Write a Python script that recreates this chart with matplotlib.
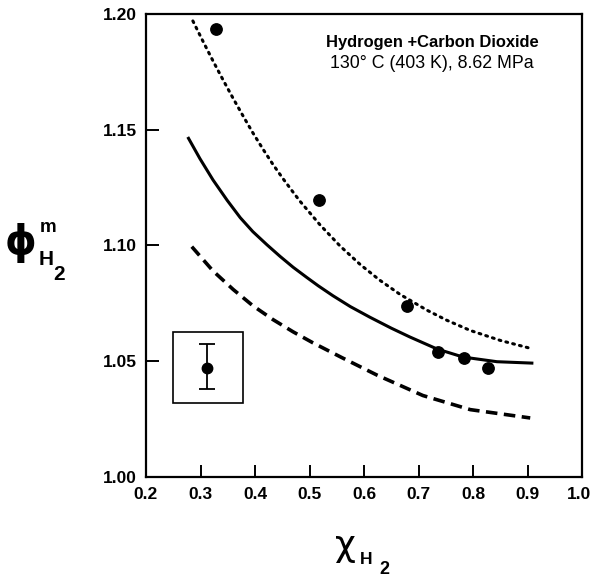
import numpy as np
import matplotlib.pyplot as plt
from matplotlib.transforms import ScaledTranslation

plt.rcParams['font.family'] = ['Liberation Sans', 'DejaVu Sans']

# 实验点
x_exp = [0.328, 0.517, 0.679, 0.736, 0.784, 0.828]
y_exp = [1.1935, 1.1197, 1.0739, 1.0540, 1.0514, 1.0471]

# 点线
x_dot = [0.286, 0.305, 0.323, 0.341, 0.360, 0.378, 0.396, 0.415, 0.433, 0.451,
         0.470, 0.483, 0.519, 0.556, 0.593, 0.629, 0.666, 0.716, 0.752, 0.795,
         0.850, 0.905]
y_dot = [1.1970, 1.1880, 1.1797, 1.1717, 1.1635, 1.1560, 1.1487, 1.1415, 1.1350, 1.1290,
         1.1230, 1.1190, 1.1090, 1.0998, 1.0918, 1.0850, 1.0789, 1.0720, 1.0677, 1.0633,
         1.0590, 1.0556]

# 实线
x_sol = [0.278, 0.299, 0.323, 0.349, 0.373, 0.396, 0.422, 0.446, 0.470, 0.495,
         0.516, 0.543, 0.575, 0.611, 0.650, 0.684, 0.734, 0.782, 0.844, 0.908]
y_sol = [1.1463, 1.1375, 1.1283, 1.1195, 1.1120, 1.1060, 1.1003, 1.0953, 1.0906, 1.0862,
         1.0826, 1.0783, 1.0736, 1.0690, 1.0643, 1.0605, 1.0553, 1.0518, 1.0498, 1.0492]

# 虚线
x_dash = [0.284, 0.323, 0.360, 0.396, 0.433, 0.470, 0.506, 0.560, 0.624, 0.708,
          0.795, 0.905]
y_dash = [1.0995, 1.0890, 1.0810, 1.0740, 1.0680, 1.0627, 1.0580, 1.0515, 1.0440, 1.0352,
          1.0291, 1.0255]

xticks = [0.2, 0.3, 0.4, 0.5, 0.6, 0.7, 0.8, 0.9, 1.0]
yticks = [1.00, 1.05, 1.10, 1.15, 1.20]

fig = plt.figure(figsize=(5.92, 5.83), dpi=100)
ax = fig.add_axes([146 / 592, 1 - 477 / 583, 436 / 592, 463 / 583])

ax.plot(x_dot, y_dot, color='black', lw=2.2, linestyle=(0, (0.6, 1.7)),
        dash_capstyle='round')
ax.plot(x_sol, y_sol, color='black', lw=2.2)
ax.plot(x_dash, y_dash, color='black', lw=2.6, linestyle=(0, (3.2, 1.8)))
ax.plot(x_exp, y_exp, 'o', color='black', ms=8.2)

# 误差示意框
ax.add_patch(plt.Rectangle((0.249, 1.032), 0.129, 0.0305, fill=False,
                           lw=1.2, edgecolor='black'))
ax.errorbar([0.312], [1.047], yerr=[[0.009], [0.0105]], fmt='o', color='black',
            ms=7.5, capsize=5.8, elinewidth=1.3, capthick=1.3)

ax.text(0.725, 1.1879, 'Hydrogen +Carbon Dioxide', ha='center', va='center',
        fontsize=11.9, fontweight='bold')
ax.text(0.725, 1.1788, '130° C (403 K), 8.62 MPa', ha='center', va='center',
        fontsize=12.8)

ax.set_xlim(0.2, 1.0)
ax.set_ylim(1.00, 1.20)
ax.set_xticks(xticks)
ax.set_yticks(yticks)
ax.set_xticklabels([f'{v:.1f}' for v in xticks], fontsize=12.5, fontweight='bold')
ax.set_yticklabels([f'{v:.2f}' for v in yticks], fontsize=12.5, fontweight='bold')
ax.tick_params(direction='in', length=9, width=1.4)
ax.tick_params(axis='x', pad=7)
ax.tick_params(axis='y', pad=6.5)
for s in ax.spines.values():
    s.set_linewidth(1.6)

# 最右边的 1.0 稍微左移，免得被裁掉
last = ax.get_xticklabels()[-1]
last.set_transform(last.get_transform() + ScaledTranslation(-0.03, 0, fig.dpi_scale_trans))

# y 轴标题 φ^m_H2
fig.text(21 / 592, 1 - 243 / 583, 'ϕ', family='DejaVu Sans', fontweight='bold',
         fontsize=29, ha='center', va='center')
fig.text(48 / 592, 1 - 227 / 583, 'm', fontweight='bold', fontsize=13.5,
         ha='center', va='center')
fig.text(46 / 592, 1 - 259 / 583, 'H', fontweight='bold', fontsize=15,
         ha='center', va='center')
fig.text(59 / 592, 1 - 275 / 583, '2', fontweight='bold', fontsize=15,
         ha='center', va='center')

# x 轴标题 χ_H2
fig.text(345 / 592, 1 - 546 / 583, 'χ', family='DejaVu Sans', fontsize=26,
         ha='center', va='center')
fig.text(366 / 592, 1 - 559 / 583, 'H', fontweight='bold', fontsize=12.5,
         ha='center', va='center')
fig.text(384 / 592, 1 - 569 / 583, '2', fontweight='bold', fontsize=13,
         ha='center', va='center')

fig.savefig('out.png', dpi=100)
